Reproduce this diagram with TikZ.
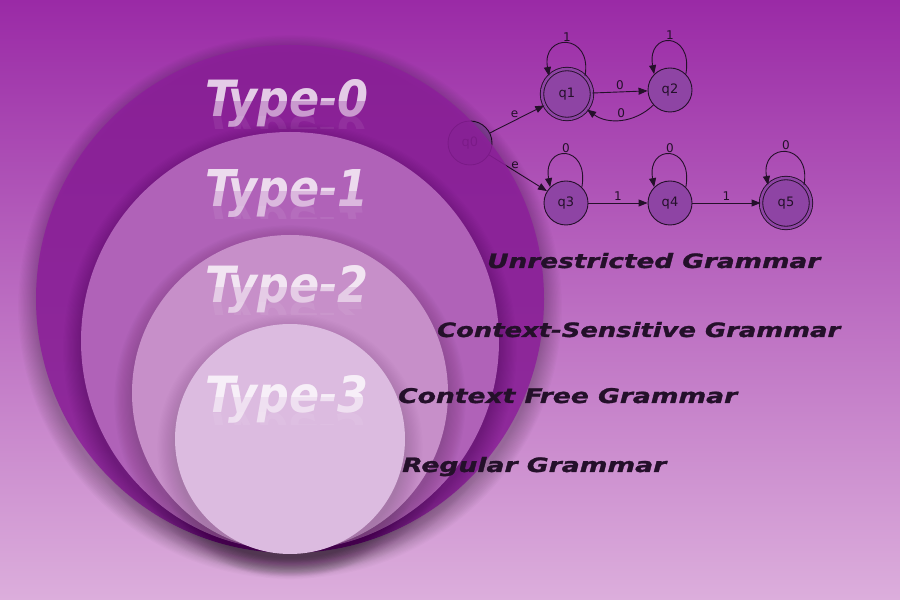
\documentclass[tikz,border=0pt]{standalone}
\usepackage{fontspec}
\setsansfont{DejaVu Sans}
\newfontfamily\typefont{DejaVu Sans}
\newfontfamily\gramfont{DejaVu Sans}[BoldItalicFeatures={FakeBold=1.2}]
\usepackage{xcolor}
\usepackage{graphicx}
\usepackage{tikz}
\usetikzlibrary{arrows.meta}

\definecolor{bgtop}{HTML}{9A2AA6}
\definecolor{bgbot}{HTML}{DCAEDC}
\definecolor{ring0}{HTML}{8D1F9B}
\definecolor{ring1}{HTML}{B062B8}
\definecolor{ring2}{HTML}{C78FC9}
\definecolor{ring3}{HTML}{DCBBE0}
\definecolor{statefill}{HTML}{8E44A4}
\definecolor{ink}{HTML}{24102A}

% soft shadow under a class circle: centre x, centre y, radius, opacity per step
\newcommand\ringshadow[4]{%
  \foreach \k in {1,...,16}
    \fill[black, opacity=#4] (#1,#2-8) circle[radius=#3+19-\k*1.2];
}
% class label text, fixed size
\newcommand\typetext[1]{\resizebox{163pt}{37pt}{Type-#1}}

\begin{document}
\begin{tikzpicture}[
    x=1pt, y=1pt,
    typelabel/.style={font=\typefont\bfseries\itshape,
                      text=white, inner sep=0pt, anchor=base},
    gram/.style={font=\gramfont\bfseries\itshape, text=ink,
                 inner sep=0pt, anchor=base west},
    qstate/.style={circle, draw=ink, line width=0.9pt, fill=statefill,
                   minimum size=44pt, inner sep=0pt,
                   font=\sffamily\fontsize{13}{13}\selectfont, text=ink},
    qaccept/.style={qstate, minimum size=50pt, double=statefill,
                    double distance=2.5pt},
    trans/.style={-{Triangle[length=9pt, width=7pt]}, line width=0.9pt, draw=ink},
    lbl/.style={font=\sffamily\fontsize{12}{12}\selectfont, text=ink, inner sep=2pt},
]
  \useasboundingbox (0,0) rectangle (900,600);
  \shade[top color=bgtop, bottom color=bgbot] (0,0) rectangle (900,600);

  % automaton
  \node[qstate]  (q0) at (470,457) {q0};
  \node[qaccept] (q1) at (567,506) {q1};
  \node[qstate]  (q2) at (670,510) {q2};
  \node[qstate]  (q3) at (566,397) {q3};
  \node[qstate]  (q4) at (670,397) {q4};
  \node[qaccept] (q5) at (786,397) {q5};

  \draw[trans] (q0) -- node[lbl, above, pos=.45] {e} (q1);
  \draw[trans] (q0) -- node[lbl, above, pos=.45] {e} (q3);
  \draw[trans] (q1) -- node[lbl, above] {0} (q2);
  \draw[trans] (q2) to[bend left=40] node[lbl, above] {0} (q1);
  \draw[trans] (q3) -- node[lbl, above] {1} (q4);
  \draw[trans] (q4) -- node[lbl, above] {1} (q5);
  \foreach \q/\a in {q1/1, q2/1, q3/0, q4/0, q5/0}
    \draw[trans] (\q.45) .. controls +(80:44) and +(100:44) .. node[lbl, above] {\a} (\q.135);

  % nested classes
  \ringshadow{290}{301}{254}{.016}
  \fill[ring0, fill opacity=.85] (290,301) circle[radius=254];
  \ringshadow{290}{259}{209}{.012}
  \fill[ring1] (290,259) circle[radius=209];
  \ringshadow{290}{207}{158}{.01}
  \fill[ring2] (290,207) circle[radius=158];
  \ringshadow{290}{161}{115}{.008}
  \fill[ring3] (290,161) circle[radius=115];

  \foreach \n/\yb in {0/483, 1/393, 2/297, 3/187}{
    \node[typelabel, text opacity=.55] (type\n) at (287,\yb) {\typetext{\n}};
    \begin{scope}
      \clip (150,\yb+16) rectangle (450,\yb+60);
      \node[typelabel, text opacity=.5] at (287,\yb) {\typetext{\n}};
    \end{scope}
    \begin{scope}
      \clip (150,\yb-12) rectangle (450,\yb);
      \node[typelabel, text opacity=.07] at (287,\yb) {\scalebox{1}[-1]{\typetext{\n}}};
    \end{scope}
  }

  \node[gram] (unres)   at (487,332) {\resizebox{333pt}{15pt}{Unrestricted Grammar}};
  \node[gram] (csens)   at (437,263) {\resizebox{403pt}{15pt}{Context-Sensitive Grammar}};
  \node[gram] (cfree)   at (398,197) {\resizebox{339pt}{15pt}{Context Free Grammar}};
  \node[gram] (regular) at (402,128) {\resizebox{264pt}{15pt}{Regular Grammar}};
\end{tikzpicture}
\end{document}
